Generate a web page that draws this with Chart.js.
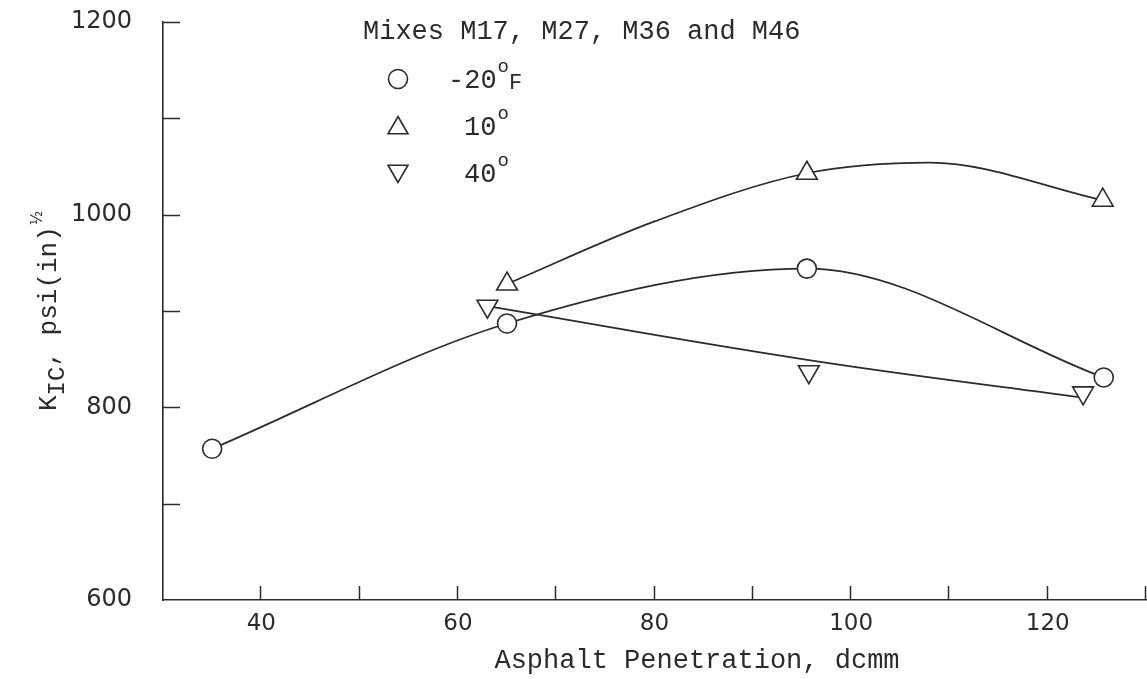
<!DOCTYPE html>
<html>
<head>
<meta charset="utf-8">
<script src="https://cdn.jsdelivr.net/npm/chart.js@4.4.1/dist/chart.umd.min.js"></script>
<style>
  html, body { margin: 0; padding: 0; background: #ffffff; }
  #wrap { width: 1147px; height: 679px; position: relative; }
</style>
</head>
<body>
<div id="wrap"><canvas id="c" width="1147" height="679"></canvas></div>
<script>
// ---- Data ----
const xTickLabels = [40, 60, 80, 100, 120];
const yTickLabels = [600, 800, 1000, 1200];

// -20 F (circles)
const penCold = [35, 65, 95.5, 125.7];
const kicCold = [757, 887, 944, 831];

// 10 F (up triangles) - markers
const penMid = [65, 95.5, 125.6];
const kicMid = [928, 1043, 1015];
// 10 F hand-drawn curve
const penMidFit = [65, 80, 95.5, 108, 125.6];
const kicMidFit = [928, 993, 1043, 1054, 1015];

// 40 F (down triangles) - markers
const penWarm = [63, 95.7, 123.6];
const kicWarm = [905, 837, 815];
// 40 F hand-drawn trend curve
const penWarmFit = [63, 95.7, 123.6];
const kicWarmFit = [905, 849, 810];

const legendTitle = 'Mixes M17, M27, M36 and M46';
const legendRows = [
  { style: 'circle', rot: 0, main: '-20', sup: 'o', tail: 'F' },
  { style: 'triangle', rot: 0, main: '10', sup: 'o', tail: '' },
  { style: 'triangle', rot: 180, main: '40', sup: 'o', tail: '' }
];
const xTitle = 'Asphalt Penetration, dcmm';

const INK = '#2b2b2b';
const MONO = '"Liberation Mono", "DejaVu Sans Mono", monospace';
const SANS = '"DejaVu Sans", "Liberation Sans", sans-serif';

const pts = (xs, ys) => xs.map((x, i) => ({ x: x, y: ys[i] }));

function drawMarker(ctx, style, rot, r, x, y) {
  ctx.save();
  ctx.beginPath();
  if (style === 'circle') {
    ctx.arc(x, y, r, 0, Math.PI * 2);
  } else {
    let rad = rot * Math.PI / 180;
    ctx.moveTo(x + Math.sin(rad) * r, y - Math.cos(rad) * r);
    rad += 2 * Math.PI / 3;
    ctx.lineTo(x + Math.sin(rad) * r, y - Math.cos(rad) * r);
    rad += 2 * Math.PI / 3;
    ctx.lineTo(x + Math.sin(rad) * r, y - Math.cos(rad) * r);
    ctx.closePath();
  }
  ctx.fillStyle = '#fff';
  ctx.fill();
  ctx.lineWidth = 1.6;
  ctx.strokeStyle = INK;
  ctx.stroke();
  ctx.restore();
}

const decorPlugin = {
  id: 'decor',
  afterDraw(chart) {
    const ctx = chart.ctx;
    const xs = chart.scales.x, ys = chart.scales.y;
    const area = chart.chartArea;
    ctx.save();
    ctx.strokeStyle = INK;
    ctx.lineWidth = 1.5;
    // inward ticks on y axis
    for (let v = 700; v <= 1200; v += 100) {
      const py = Math.round(ys.getPixelForValue(v)) + 0.5;
      ctx.beginPath();
      ctx.moveTo(area.left, py);
      ctx.lineTo(area.left + 17, py);
      ctx.stroke();
    }
    // inward ticks on x axis
    for (let v = 40; v <= 130; v += 10) {
      const px = Math.round(xs.getPixelForValue(v)) - 0.5;
      ctx.beginPath();
      ctx.moveTo(px, area.bottom);
      ctx.lineTo(px, area.bottom - 14);
      ctx.stroke();
    }
    // legend block
    ctx.fillStyle = INK;
    ctx.textBaseline = 'middle';
    ctx.textAlign = 'left';
    ctx.font = '27px ' + MONO;
    ctx.fillText(legendTitle, 363, 32);
    const rowY = [79, 126, 173];
    legendRows.forEach((row, i) => {
      const y = rowY[i];
      drawMarker(ctx, row.style, row.rot, row.style === 'circle' ? 9.5 : 11.5, 398, y + (row.style === 'circle' ? 0 : (row.rot ? -2 : 2)));
      ctx.fillStyle = INK;
      ctx.font = '27px ' + MONO;
      const x0 = row.tail ? 448 : 464;
      ctx.fillText(row.main, x0, y + 2);
      const w = ctx.measureText(row.main).width;
      ctx.font = '19px ' + MONO;
      ctx.fillText(row.sup, x0 + w + 1, y - 12);
      if (row.tail) {
        const w2 = ctx.measureText(row.sup).width;
        ctx.font = '22px ' + MONO;
        ctx.fillText(row.tail, x0 + w + w2 + 1, y + 4);
      }
    });
    // x axis title
    ctx.font = '27px ' + MONO;
    ctx.textAlign = 'center';
    ctx.fillText(xTitle, 697, 661);
    // y axis title (rotated, with subscript and superscript)
    ctx.translate(56, 411);
    ctx.rotate(-Math.PI / 2);
    ctx.textAlign = 'left';
    ctx.textBaseline = 'alphabetic';
    let cx = 0;
    ctx.font = '26px ' + MONO;
    ctx.fillText('K', cx, 0); cx += ctx.measureText('K').width;
    ctx.font = '24px ' + MONO;
    ctx.fillText('IC', cx, 8); cx += ctx.measureText('IC').width;
    ctx.font = '26px ' + MONO;
    ctx.fillText(', psi(in)', cx, 0); cx += ctx.measureText(', psi(in)').width;
    ctx.font = '15px ' + SANS;
    ctx.fillText('\u00BD', cx + 1, -14);
    ctx.restore();
  }
};

new Chart(document.getElementById('c'), {
  type: 'scatter',
  data: {
    datasets: [
      {
        label: '-20 F',
        data: pts(penCold, kicCold),
        showLine: true,
        cubicInterpolationMode: 'monotone',
        borderColor: INK,
        borderWidth: 1.7,
        pointStyle: 'circle',
        pointRadius: 9.5,
        pointBorderWidth: 1.6,
        pointBackgroundColor: '#fff',
        pointBorderColor: INK
      },
      {
        label: '10 F',
        data: pts(penMid, kicMid),
        showLine: false,
        pointStyle: 'triangle',
        pointRadius: 12,
        pointBorderWidth: 1.6,
        pointBackgroundColor: '#fff',
        pointBorderColor: INK
      },
      {
        label: '40 F',
        data: pts(penWarm, kicWarm),
        showLine: false,
        pointStyle: 'triangle',
        pointRotation: 180,
        pointRadius: 12,
        pointBorderWidth: 1.6,
        pointBackgroundColor: '#fff',
        pointBorderColor: INK
      },
      {
        label: '10 F curve',
        data: pts(penMidFit, kicMidFit),
        showLine: true,
        cubicInterpolationMode: 'monotone',
        borderColor: INK,
        borderWidth: 1.7,
        pointRadius: 0
      },
      {
        label: '40 F trend',
        data: pts(penWarmFit, kicWarmFit),
        showLine: true,
        tension: 0.4,
        borderColor: INK,
        borderWidth: 1.7,
        pointRadius: 0
      }
    ]
  },
  options: {
    responsive: false,
    animation: false,
    events: [],
    layout: { autoPadding: false, padding: { top: 22, right: 1, left: 0, bottom: 0 } },
    plugins: { legend: { display: false }, tooltip: { enabled: false }, title: { display: false } },
    scales: {
      x: {
        type: 'linear',
        min: 30, max: 130,
        afterFit: s => { s.height = 79; s.paddingLeft = 0; s.paddingRight = 0; },
        ticks: {
          stepSize: 10, autoSkip: false, maxRotation: 0,
          callback: v => (xTickLabels.includes(v) ? String(v) : ''),
          font: { family: SANS, size: 23, lineHeight: 2.1 }, color: INK, padding: 0
        },
        grid: { display: true, drawOnChartArea: false, drawTicks: false },
        border: { display: true, color: INK, width: 1.6 }
      },
      y: {
        min: 600, max: 1200,
        afterFit: s => { s.width = 163; s.paddingTop = 0; s.paddingBottom = 0; },
        ticks: {
          stepSize: 100, autoSkip: false,
          callback: v => (yTickLabels.includes(v) ? String(v) : ''),
          font: { family: SANS, size: 24 }, color: INK, padding: 31
        },
        grid: { display: true, drawOnChartArea: false, drawTicks: false },
        border: { display: true, color: INK, width: 1.6 }
      }
    }
  },
  plugins: [decorPlugin]
});
</script>
</body>
</html>
